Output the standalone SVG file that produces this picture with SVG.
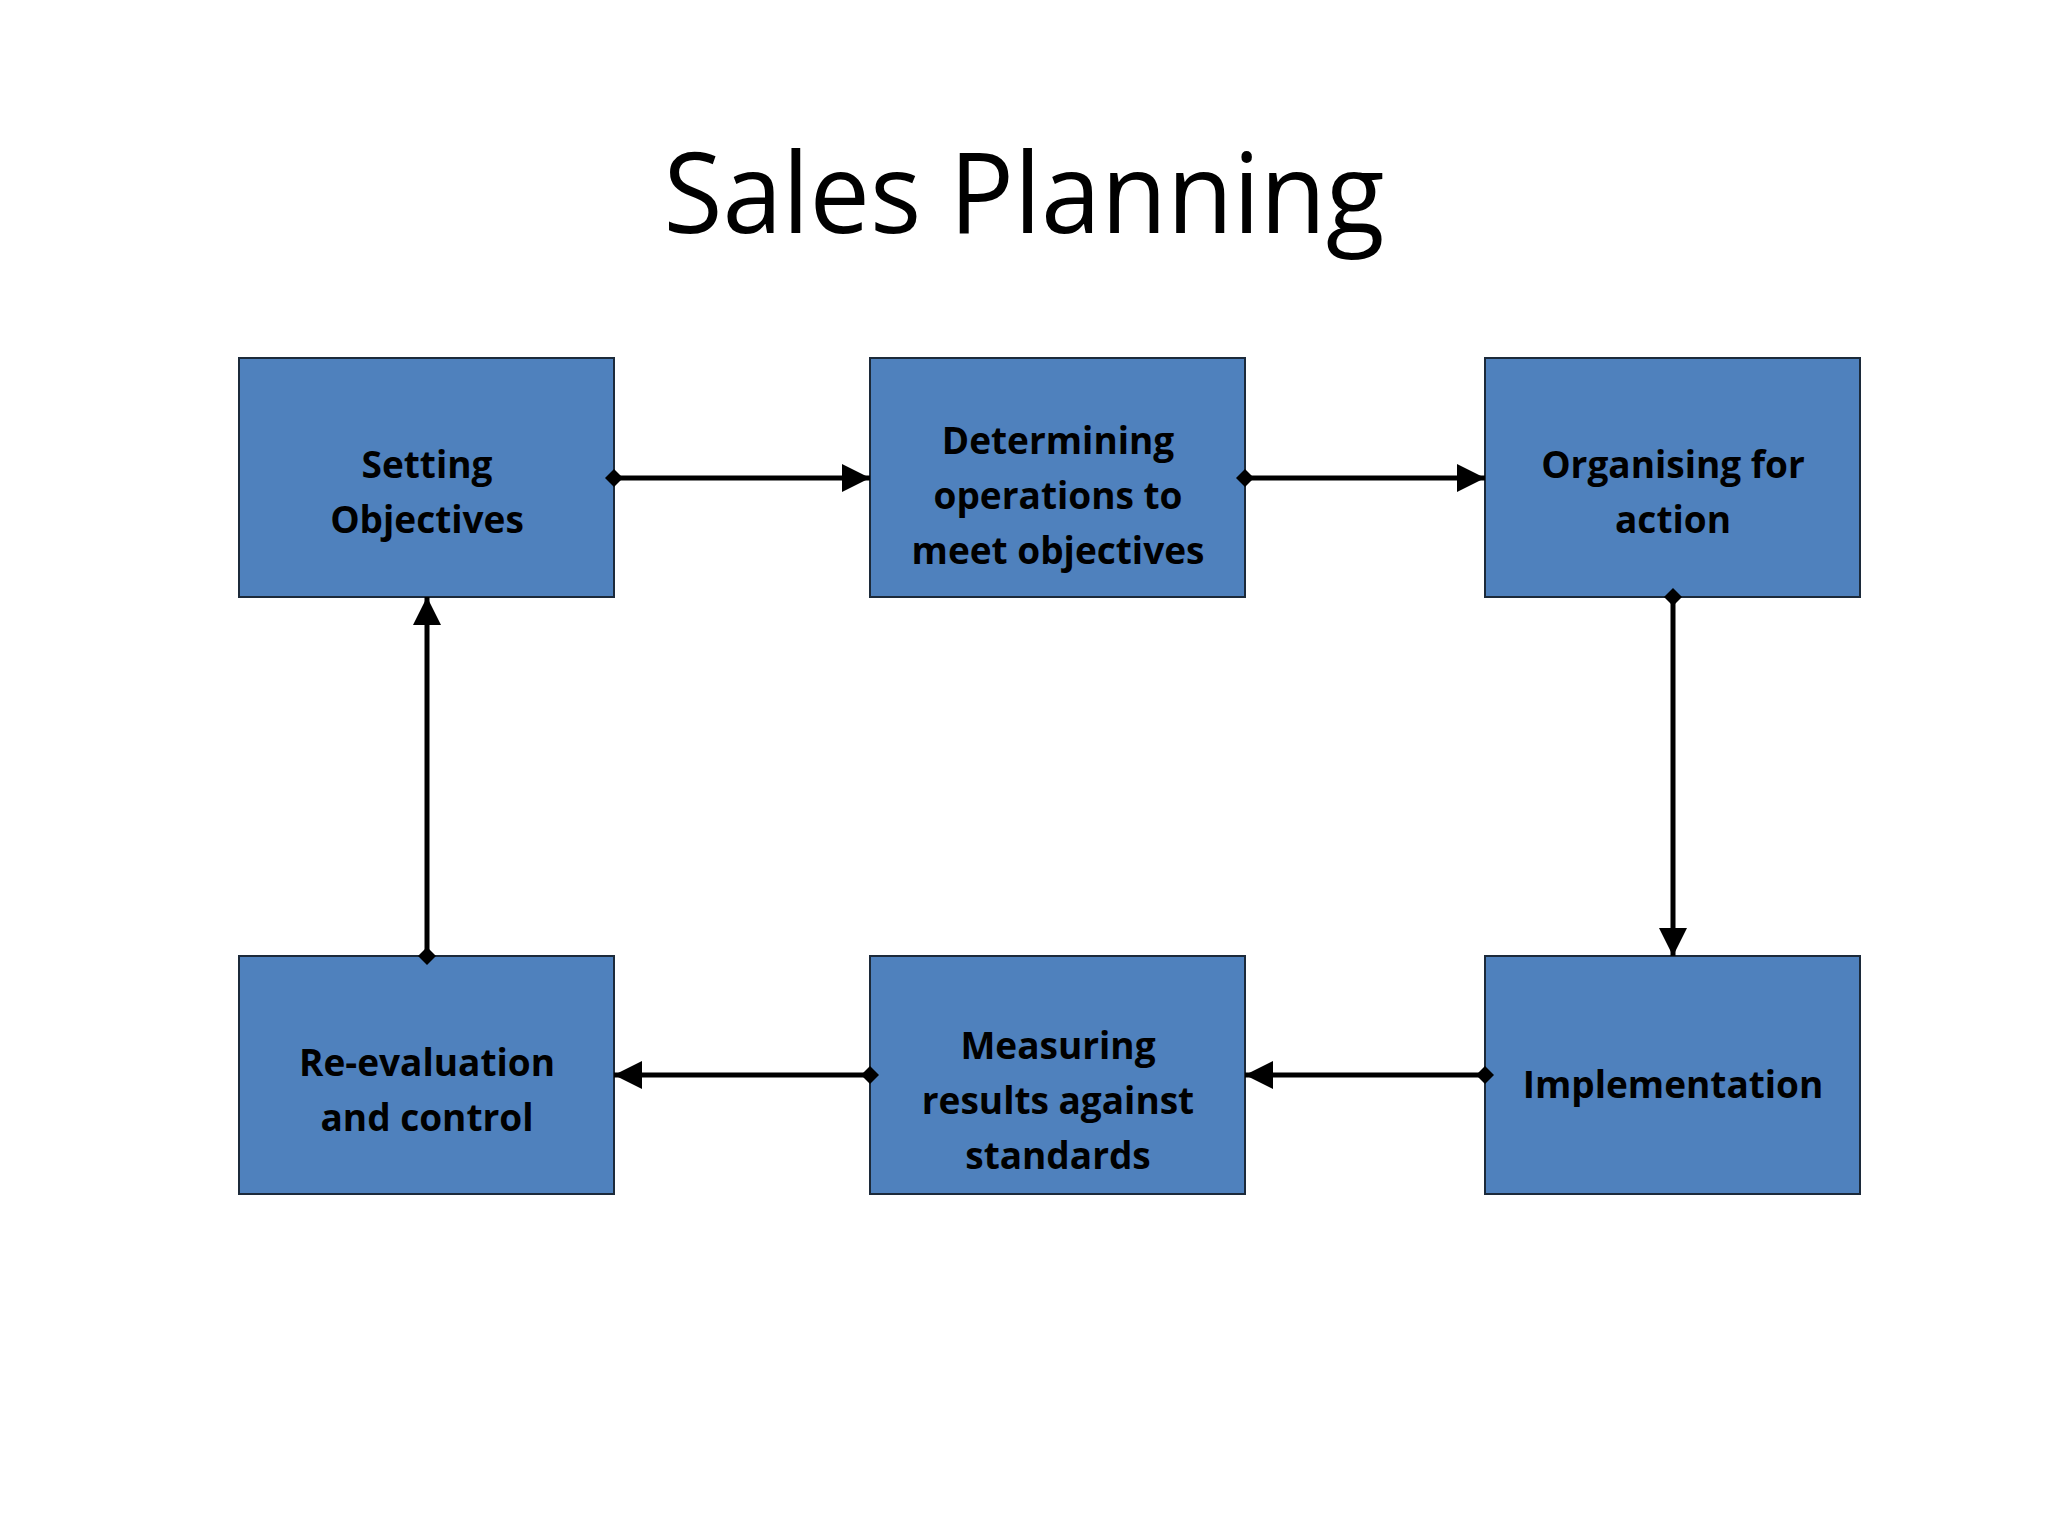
<svg xmlns="http://www.w3.org/2000/svg" width="2048" height="1536" viewBox="0 0 2048 1536">
<style>
.box{fill:#4F81BD;stroke:#1C2A3A;stroke-width:2}
.lbl{font-family:"Open Sans","Liberation Sans",sans-serif;font-weight:bold;font-size:37px;fill:#000;text-anchor:middle}
.title{font-family:"Open Sans","Liberation Sans",sans-serif;font-size:112px;fill:#000;text-anchor:middle}
.conn{stroke:#000;stroke-width:5;fill:none;marker-start:url(#dia);marker-end:url(#arr)}
</style>
<defs>
<marker id="arr" markerUnits="userSpaceOnUse" viewBox="0 0 28 28" refX="28" refY="14" markerWidth="28" markerHeight="28" orient="auto">
<path d="M0,0 L28,14 L0,28 Z" fill="#000"/>
</marker>
<marker id="dia" markerUnits="userSpaceOnUse" viewBox="0 0 18 18" refX="9" refY="9" markerWidth="18" markerHeight="18" orient="auto">
<path d="M0,9 L9,0 L18,9 L9,18 Z" fill="#000"/>
</marker>
</defs>
<rect width="2048" height="1536" fill="#fff"/>
<text class="title" x="1024" y="233" textLength="721" lengthAdjust="spacingAndGlyphs">Sales Planning</text>
<g id="n1"><rect class="box" x="239" y="358" width="375" height="239"/><text class="lbl"><tspan x="427" y="478">Setting</tspan><tspan x="427" y="533">Objectives</tspan></text></g>
<g id="n2"><rect class="box" x="870" y="358" width="375" height="239"/><text class="lbl"><tspan x="1058" y="454">Determining</tspan><tspan x="1058" y="509">operations to</tspan><tspan x="1058" y="564">meet objectives</tspan></text></g>
<g id="n3"><rect class="box" x="1485" y="358" width="375" height="239"/><text class="lbl"><tspan x="1673" y="478">Organising for</tspan><tspan x="1673" y="533">action</tspan></text></g>
<g id="n4"><rect class="box" x="239" y="956" width="375" height="238"/><text class="lbl"><tspan x="427" y="1076">Re-evaluation</tspan><tspan x="427" y="1131">and control</tspan></text></g>
<g id="n5"><rect class="box" x="870" y="956" width="375" height="238"/><text class="lbl"><tspan x="1058" y="1059">Measuring</tspan><tspan x="1058" y="1114">results against</tspan><tspan x="1058" y="1169">standards</tspan></text></g>
<g id="n6"><rect class="box" x="1485" y="956" width="375" height="238"/><text class="lbl"><tspan x="1673" y="1098">Implementation</tspan></text></g>
<g id="connectors">
<line class="conn" x1="614" y1="478" x2="870" y2="478"/>
<line class="conn" x1="1245" y1="478" x2="1485" y2="478"/>
<line class="conn" x1="1673" y1="597" x2="1673" y2="956"/>
<line class="conn" x1="1485" y1="1075" x2="1245" y2="1075"/>
<line class="conn" x1="870" y1="1075" x2="614" y2="1075"/>
<line class="conn" x1="427" y1="956" x2="427" y2="597"/>
</g>
</svg>
